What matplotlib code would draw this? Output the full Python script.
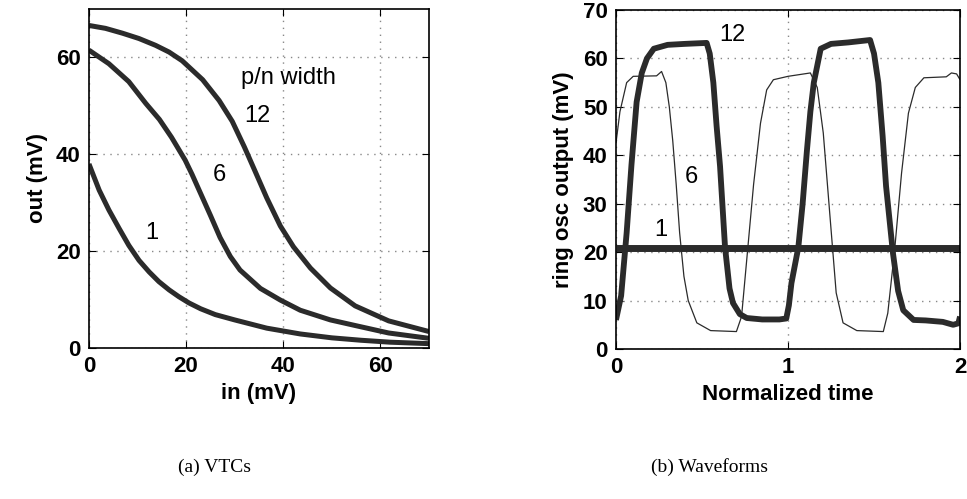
import numpy as np
import matplotlib.pyplot as plt

plt.rcParams['font.family'] = ['Liberation Sans', 'DejaVu Sans']

# (a) VTCs: input (mV) vs output (mV) for p/n widths 1, 6, 12
in_1 = [0, 2.1, 4.1, 6.2, 8.2, 10.3, 12.4, 14.4, 16.5, 18.5, 20.6, 23, 26, 30, 36.6,
        43.5, 50, 56, 62, 70]
out_1 = [38, 32.6, 28.5, 24.7, 21.2, 18.1, 15.7, 13.7, 12.0, 10.6, 9.3, 8.1, 6.9, 5.8,
         4.1, 2.9, 2.1, 1.6, 1.2, 0.9]
in_6 = [0, 4.1, 8.2, 11.7, 14.5, 17, 19.8, 21.2, 22.9, 25, 27, 29.1, 31.1, 35.3, 39.4,
        43.5, 49.7, 55, 61.7, 70]
out_6 = [61.5, 58.7, 55, 50.5, 47.2, 43.5, 38.8, 35.9, 32.1, 27.4, 22.8, 18.9, 16.1, 12.3,
         9.9, 7.8, 5.8, 4.6, 3.1, 2.0]
in_12 = [0, 3.4, 6.9, 10.3, 13.7, 16.5, 19.2, 23.4, 26.8, 29.5, 32, 34.2, 36.6, 39.4,
         42.1, 45.6, 49.7, 54.8, 61.7, 70]
out_12 = [66.6, 66, 65, 63.9, 62.5, 61.1, 59.3, 55.4, 51.1, 46.8, 41.5, 36.5, 31, 25.2,
          20.9, 16.5, 12.4, 8.7, 5.6, 3.4]

# (b) Waveforms: normalized time vs ring osc output (mV)
t_12 = [0, 0.03, 0.062, 0.09, 0.12, 0.15, 0.18, 0.22, 0.3, 0.4, 0.527, 0.545, 0.566,
        0.585, 0.605, 0.634, 0.66, 0.68, 0.72, 0.76, 0.85, 0.95, 0.99, 1.005, 1.02,
        1.06, 1.085, 1.11, 1.13, 1.15, 1.19, 1.25, 1.35, 1.477, 1.5, 1.525, 1.55,
        1.57, 1.61, 1.64, 1.67, 1.73, 1.8, 1.9, 1.96, 1.99, 2.0]
v_12 = [6, 11, 24, 38, 51, 57, 60, 62, 62.8, 63, 63.2, 61, 55, 46, 37.7, 21, 12.5,
        9.5, 7.2, 6.4, 6.1, 6.1, 6.3, 9, 13.6, 21, 30, 41, 49, 55, 62, 63, 63.3,
        63.8, 61, 55, 44, 33.6, 19.8, 12, 8, 6, 5.9, 5.6, 5, 5.3, 6.7]

t_6 = [0, 0.023, 0.062, 0.1, 0.236, 0.265, 0.29, 0.31, 0.33, 0.35, 0.37, 0.395,
       0.42, 0.47, 0.55, 0.7, 0.73, 0.76, 0.8, 0.84, 0.876, 0.915, 1.0, 1.13, 1.17,
       1.205, 1.244, 1.28, 1.32, 1.4, 1.554, 1.58, 1.62, 1.66, 1.7, 1.74, 1.79,
       1.92, 1.95, 1.98, 2.0]
v_6 = [42.5, 49, 55, 56.3, 56.4, 57.3, 55, 50, 43, 34, 24, 15, 10, 5.4, 3.8, 3.6,
       6.7, 18.4, 34, 46.6, 53.5, 55.6, 56.3, 57, 54, 44.6, 27.4, 11.6, 5.4, 3.8,
       3.6, 7.4, 20.5, 36.3, 48.7, 54, 56, 56.2, 57, 56.8, 55.6]

t_1 = [0, 2]
v_1 = [20.8, 20.8]

line_col = '#2b2b2b'
grid_kw = dict(color='#888888', linestyle=(0, (1, 4)), linewidth=1)
lkw = dict(color=line_col, solid_joinstyle='round', solid_capstyle='butt')

fig = plt.figure(figsize=(9.67, 4.99), dpi=100)
ax1 = fig.add_axes([0.092, 0.3026, 0.3516, 0.6794])
ax2 = fig.add_axes([0.637, 0.3006, 0.3558, 0.6794])

# left panel
ax1.plot(in_1, out_1, lw=3.6, **lkw)
ax1.plot(in_6, out_6, lw=3.6, **lkw)
ax1.plot(in_12, out_12, lw=3.6, **lkw)
ax1.set_xlim(0, 70)
ax1.set_ylim(0, 70)
ax1.set_xticks([0, 20, 40, 60])
ax1.set_yticks([0, 20, 40, 60])
ax1.grid(True, **grid_kw)
ax1.text(31.2, 55.7, 'p/n width', fontsize=17, va='center')
ax1.text(32, 47.8, '12', fontsize=17, va='center')
ax1.text(25.5, 35.8, '6', fontsize=17, va='center')
ax1.text(11.5, 23.7, '1', fontsize=17, va='center')
ax1.set_xlabel('in (mV)', fontsize=16, fontweight='bold', labelpad=4)
ax1.set_ylabel('out (mV)', fontsize=16, fontweight='bold', labelpad=6)

# right panel
ax2.plot(t_6, v_6, lw=0.9, **lkw)
ax2.plot(t_12, v_12, lw=4.2, **lkw)
ax2.plot(t_1, v_1, lw=5, **lkw)
ax2.set_xlim(0, 2)
ax2.set_ylim(0, 70)
ax2.set_xticks([0, 1, 2])
ax2.set_yticks(range(0, 71, 10))
ax2.grid(True, **grid_kw)
ax2.text(0.6, 64.9, '12', fontsize=17, va='center')
ax2.text(0.4, 35.6, '6', fontsize=17, va='center')
ax2.text(0.22, 24.6, '1', fontsize=17, va='center')
ax2.set_xlabel('Normalized time', fontsize=16, fontweight='bold', labelpad=4)
ax2.set_ylabel('ring osc output (mV)', fontsize=16, fontweight='bold', labelpad=6)

for ax in (ax1, ax2):
    ax.tick_params(direction='in', top=True, right=True, length=5, labelsize=16, pad=6)
    for lab in ax.get_xticklabels() + ax.get_yticklabels():
        lab.set_fontweight('bold')
    for s in ax.spines.values():
        s.set_linewidth(1.2)

fig.text(0.222, 0.064, '(a) VTCs', fontsize=14, family='Liberation Serif', ha='center', va='center')
fig.text(0.734, 0.064, '(b) Waveforms', fontsize=14, family='Liberation Serif', ha='center', va='center')

fig.savefig('out.png', dpi=100)
